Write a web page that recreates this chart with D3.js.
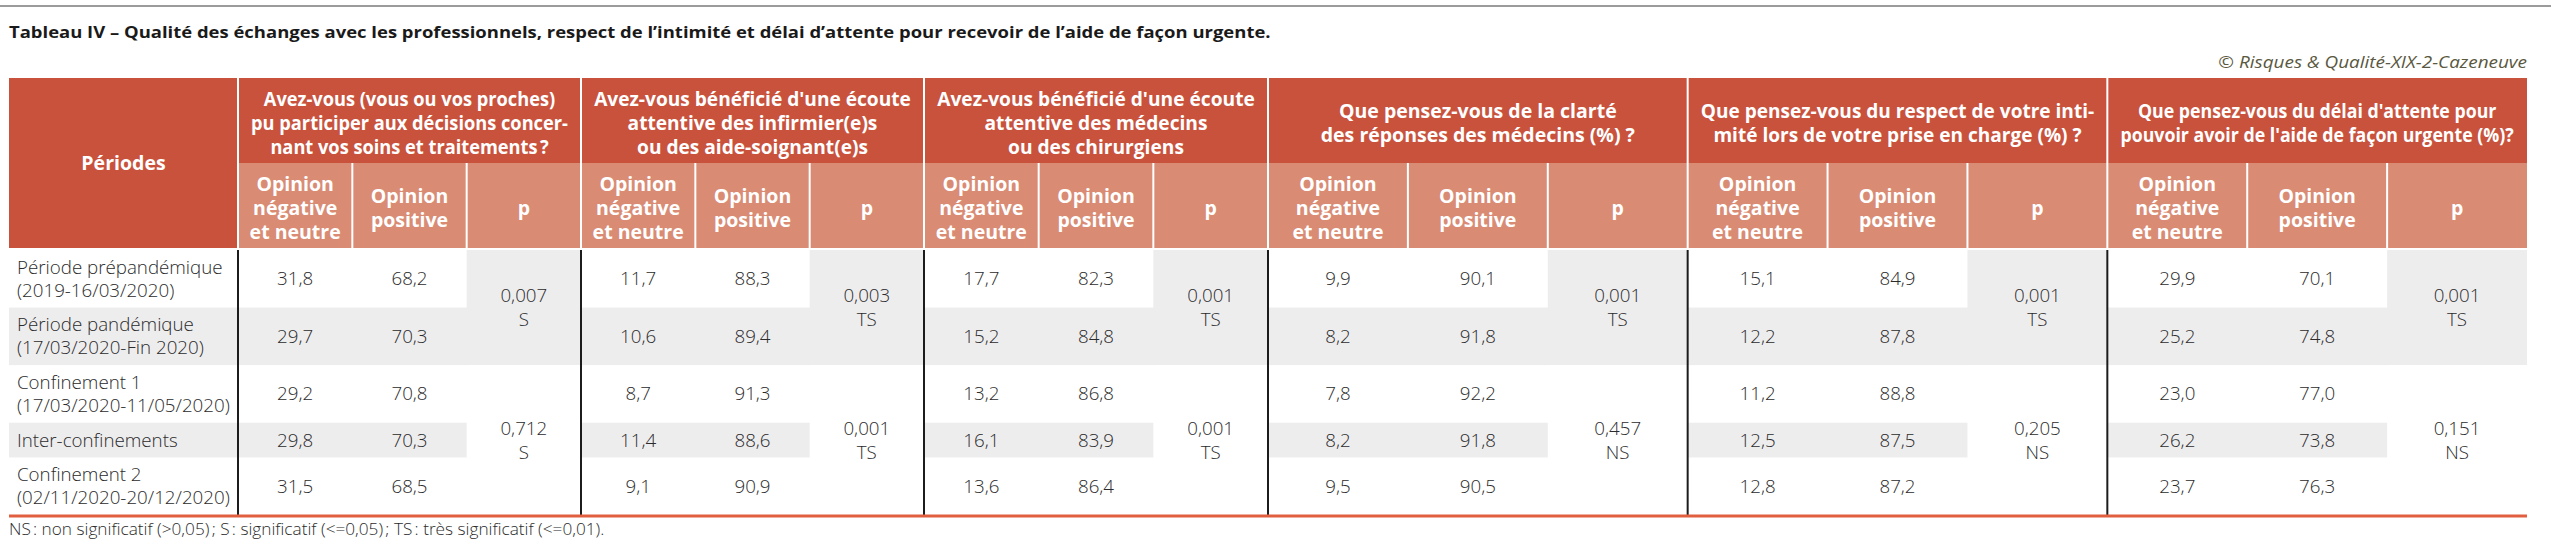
<!DOCTYPE html>
<html><head><meta charset="utf-8">
<script src="https://cdn.jsdelivr.net/npm/d3@7"></script>
<style>
html,body{margin:0;padding:0;background:#fff;}
svg{display:block;}
</style></head>
<body>
<svg id="chart" width="2551" height="542"></svg>
<script>
// ---------- DATA ----------
const title = "Tableau IV – Qualité des échanges avec les professionnels, respect de l’intimité et délai d’attente pour recevoir de l’aide de façon urgente.";
const credit = "© Risques & Qualité-XIX-2-Cazeneuve";
const footnote = "NS\u202F: non significatif (>0,05)\u202F; S\u202F: significatif (<=0,05)\u202F; TS\u202F: très significatif (<=0,01).";
const periodHeader = "Périodes";
const periodLines = [
  ["Période prépandémique", "(2019-16/03/2020)"],
  ["Période pandémique", "(17/03/2020-Fin 2020)"],
  ["Confinement 1", "(17/03/2020-11/05/2020)"],
  ["Inter-confinements"],
  ["Confinement 2", "(02/11/2020-20/12/2020)"]
];
const questionLines = [
  ["Avez-vous (vous ou vos proches)", "pu participer aux décisions concer-", "nant vos soins et traitements\u202F?"],
  ["Avez-vous bénéficié d'une écoute", "attentive des infirmier(e)s", "ou des aide-soignant(e)s"],
  ["Avez-vous bénéficié d'une écoute", "attentive des médecins", "ou des chirurgiens"],
  ["Que pensez-vous de la clarté", "des réponses des médecins (%) ?"],
  ["Que pensez-vous du respect de votre inti-", "mité lors de votre prise en charge (%) ?"],
  ["Que pensez-vous du délai d'attente pour", "pouvoir avoir de l'aide de façon urgente (%)?"]
];
const subLabels = [["Opinion", "négative", "et neutre"], ["Opinion", "positive"], ["p"]];
// values per question (rows = periods)
const negative = [
  [31.8, 29.7, 29.2, 29.8, 31.5],
  [11.7, 10.6, 8.7, 11.4, 9.1],
  [17.7, 15.2, 13.2, 16.1, 13.6],
  [9.9, 8.2, 7.8, 8.2, 9.5],
  [15.1, 12.2, 11.2, 12.5, 12.8],
  [29.9, 25.2, 23.0, 26.2, 23.7]
];
const positive = [
  [68.2, 70.3, 70.8, 70.3, 68.5],
  [88.3, 89.4, 91.3, 88.6, 90.9],
  [82.3, 84.8, 86.8, 83.9, 86.4],
  [90.1, 91.8, 92.2, 91.8, 90.5],
  [84.9, 87.8, 88.8, 87.5, 87.2],
  [70.1, 74.8, 77.0, 73.8, 76.3]
];
// p-values: comparison A (rows 0-1), comparison B (rows 2-4)
const pBlocks = [[0, 1], [2, 4]];
const pValuesA = [0.007, 0.003, 0.001, 0.001, 0.001, 0.001];
const pSigA = ["S", "TS", "TS", "TS", "TS", "TS"];
const pValuesB = [0.712, 0.001, 0.001, 0.457, 0.205, 0.151];
const pSigB = ["S", "TS", "TS", "NS", "NS", "NS"];

// ---------- STYLE / LAYOUT ----------
const C = {
  dark: "#c9523d", light: "#d98b74", gray: "#eeedee", text: "#2b2b2b",
  rule: "#1c1c1c", red: "#e25e40", top: "#9b9b9b", credit: "#5a5840"
};
const FONT = "'Open Sans', 'Noto Sans', 'Liberation Sans', sans-serif";
const fr = d3.formatLocale({decimal: ",", thousands: "\u00a0", grouping: [3], currency: ["", "\u00a0€"]});
const f1 = fr.format(".1f"), f3 = fr.format(".3f");

const svg = d3.select("#chart");
const Lx = 9, Rx = 2527, periodR = 238;
const headerTop = 78, groupBottom = 163, subBottom = 248, dataTop = 250, dataBottom = 515;

// horizontal calibration of type widths (reference font is wider than the local one)
function measure(str, fs, weight, style) {
  const t = svg.append("text").attr("font-family", FONT).attr("font-size", fs)
    .attr("font-weight", weight).attr("font-style", style || "normal").text(str);
  const w = t.node().getComputedTextLength();
  t.remove();
  return w;
}
const sxBody = 213 / measure("(17/03/2020-11/05/2020)", 18, 300);
const sxHead = 312 / measure("Avez-vous (vous ou vos proches)", 19, 700);
const sxTitle = 1262 / measure(title, 16.5, 700);
const sxFoot = 596 / measure(footnote, 16, 300);
const sxCredit = 309 / measure(credit, 15.5, 400, "italic");
function hscale(sel, ax, sx) {
  sel.attr("transform", `translate(${ax},0) scale(${sx},1) translate(${-ax},0)`);
  return sel;
}

// column geometry
const groupW = [343, 343, 344];
const restW = (Rx - (periodR + d3.sum(groupW))) / 3;
const gWidths = groupW.concat([restW, restW, restW]);
const gEdges = [periodR].concat(Array.from(d3.cumsum(gWidths), v => periodR + v));
const xSub = (g, k) => gEdges[g] + gWidths[g] * k / 3;            // left edge of sub-col k
const xSubC = (g, k) => gEdges[g] + gWidths[g] * (k + 0.5) / 3;   // centre of sub-col k

// row geometry via a linear scale over stacked row units
const rowUnits = periodLines.map(l => 12 + 23 * l.length);
const rowStart = [0].concat(Array.from(d3.cumsum(rowUnits)));
const y = d3.scaleLinear().domain([0, d3.sum(rowUnits)]).range([dataTop, dataBottom]);
const rowY0 = i => y(rowStart[i]), rowY1 = i => y(rowStart[i + 1]);
const rowC = i => (rowY0(i) + rowY1(i)) / 2;

// top rule
svg.append("line").attr("x1", 0).attr("x2", 2551).attr("y1", 6).attr("y2", 6)
  .attr("stroke", C.top).attr("stroke-width", 2);

// title + credit
hscale(svg.append("text").attr("x", Lx).attr("y", 38).text(title)
  .attr("font-family", FONT).attr("font-weight", 700).attr("font-size", 16.5).attr("fill", "#1a1a1a"), Lx, sxTitle);
hscale(svg.append("text").attr("x", Rx).attr("y", 68).attr("text-anchor", "end").text(credit)
  .attr("font-family", FONT).attr("font-style", "italic").attr("font-size", 15.5).attr("fill", C.credit), Rx, sxCredit);

// ---------- body backgrounds ----------
const body = svg.append("g");
body.selectAll("rect.band").data(periodLines.map((d, i) => i).filter(i => i % 2 === 1))
  .join("rect").attr("class", "band")
  .attr("x", Lx).attr("width", Rx - Lx)
  .attr("y", i => rowY0(i)).attr("height", i => rowY1(i) - rowY0(i))
  .attr("fill", C.gray);
// merged p cells
const pCells = [];
gWidths.forEach((w, g) => pBlocks.forEach((b, bi) => pCells.push({g, bi, b})));
body.selectAll("rect.pcell").data(pCells).join("rect").attr("class", "pcell")
  .attr("x", d => xSub(d.g, 2)).attr("width", d => gWidths[d.g] / 3)
  .attr("y", d => rowY0(d.b[0])).attr("height", d => rowY1(d.b[1]) - rowY0(d.b[0]))
  .attr("fill", d => d.bi === 0 ? C.gray : "#fff");

// ---------- header ----------
const head = svg.append("g");
head.append("rect").attr("x", Lx).attr("y", headerTop).attr("width", periodR - Lx)
  .attr("height", subBottom - headerTop).attr("fill", C.dark);
head.selectAll("rect.grp").data(gWidths).join("rect").attr("class", "grp")
  .attr("x", (w, g) => gEdges[g]).attr("width", w => w)
  .attr("y", headerTop).attr("height", groupBottom - headerTop).attr("fill", C.dark);
head.selectAll("rect.sub").data(gWidths).join("rect").attr("class", "sub")
  .attr("x", (w, g) => gEdges[g]).attr("width", w => w)
  .attr("y", groupBottom).attr("height", subBottom - groupBottom).attr("fill", C.light);
// white separators
head.selectAll("line.gsep").data(gEdges.slice(0, -1)).join("line").attr("class", "gsep")
  .attr("x1", d => d).attr("x2", d => d).attr("y1", headerTop).attr("y2", subBottom)
  .attr("stroke", "#fff").attr("stroke-width", 2);
const subSeps = [];
gWidths.forEach((w, g) => { subSeps.push(xSub(g, 1)); subSeps.push(xSub(g, 2)); });
head.selectAll("line.ssep").data(subSeps).join("line").attr("class", "ssep")
  .attr("x1", d => d).attr("x2", d => d).attr("y1", groupBottom).attr("y2", subBottom)
  .attr("stroke", "#fff").attr("stroke-width", 2);

function multiline(sel, lines, cx, cy, lh, fs, opts) {
  const t = sel.append("text").attr("text-anchor", "middle")
    .attr("font-family", FONT).attr("font-size", fs)
    .attr("font-weight", opts.weight).attr("fill", opts.fill);
  const y0 = cy - (lines.length - 1) * lh / 2 + fs * 0.36;
  lines.forEach((l, i) => t.append("tspan").attr("x", cx).attr("y", y0 + i * lh).text(l));
  let sx = opts.sx || 1;
  if (opts.maxW) {
    const widest = d3.max(t.selectAll("tspan").nodes(), n => n.getComputedTextLength());
    sx = Math.min(sx, opts.maxW / widest);
  }
  return hscale(t, cx, sx);
}
const H = {weight: 700, fill: "#fff", sx: sxHead};
multiline(head, [periodHeader], (Lx + periodR) / 2, (headerTop + subBottom) / 2, 24, 19, H);
questionLines.forEach((q, g) => {
  multiline(head, q, gEdges[g] + gWidths[g] / 2, 123, 24, 19, Object.assign({}, H, {maxW: gWidths[g] - 26}));
  subLabels.forEach((s, k) => multiline(head, s, xSubC(g, k), 208, 24, 19, H));
});

// ---------- body text ----------
periodLines.forEach((lines, i) => {
  const t = body.append("text").attr("font-family", FONT).attr("font-size", 18)
    .attr("font-weight", 300).attr("fill", C.text);
  const y0 = rowC(i) - (lines.length - 1) * 23 / 2 + 6.5;
  lines.forEach((l, j) => t.append("tspan").attr("x", Lx + 8).attr("y", y0 + j * 23).text(l));
  hscale(t, Lx + 8, sxBody);
});
const cells = [];
gWidths.forEach((w, g) => periodLines.forEach((p, i) => {
  cells.push({x: xSubC(g, 0), y: rowC(i), v: negative[g][i]});
  cells.push({x: xSubC(g, 1), y: rowC(i), v: positive[g][i]});
}));
body.selectAll("text.num").data(cells).join("text").attr("class", "num")
  .attr("x", d => d.x).attr("y", d => d.y + 6.5).attr("text-anchor", "middle")
  .attr("font-family", FONT).attr("font-size", 18).attr("font-weight", 300).attr("fill", C.text)
  .text(d => f1(d.v))
  .attr("transform", d => `translate(${d.x},0) scale(${sxBody},1) translate(${-d.x},0)`);
gWidths.forEach((w, g) => {
  [[pValuesA, pSigA], [pValuesB, pSigB]].forEach(([pv, ps], bi) => {
    const b = pBlocks[bi];
    const cy = (rowY0(b[0]) + rowY1(b[1])) / 2;
    multiline(body, [f3(pv[g]), ps[g]], xSubC(g, 2), cy, 24, 18, {weight: 300, fill: C.text, sx: sxBody});
  });
});

// vertical rules & bottom rule
body.selectAll("line.vr").data(gEdges.slice(0, -1)).join("line").attr("class", "vr")
  .attr("x1", d => d).attr("x2", d => d).attr("y1", dataTop).attr("y2", dataBottom)
  .attr("stroke", C.rule).attr("stroke-width", 2);
body.append("line").attr("x1", Lx).attr("x2", Rx).attr("y1", dataBottom + 1).attr("y2", dataBottom + 1)
  .attr("stroke", C.red).attr("stroke-width", 3);

// footnote
hscale(svg.append("text").attr("x", Lx).attr("y", 535).text(footnote)
  .attr("font-family", FONT).attr("font-size", 16).attr("font-weight", 300).attr("fill", C.text), Lx, sxFoot);
</script>
</body></html>
